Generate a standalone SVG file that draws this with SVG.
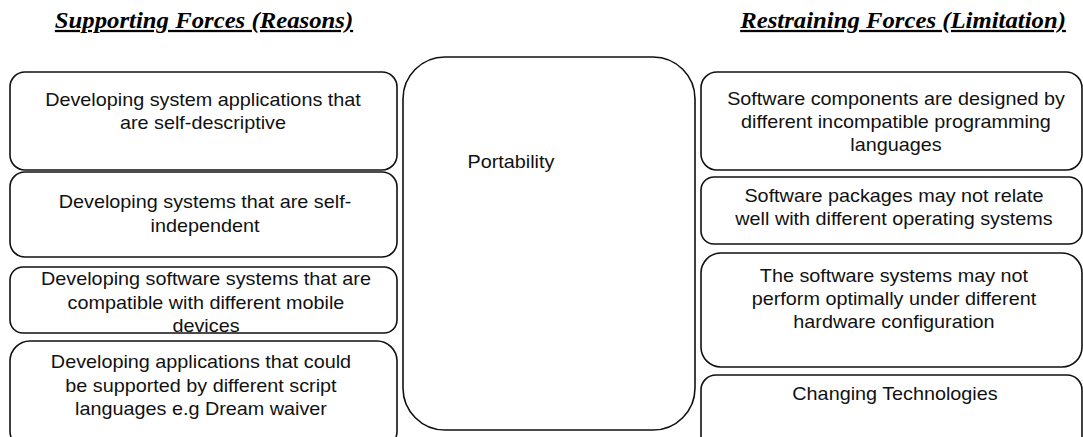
<svg xmlns="http://www.w3.org/2000/svg" width="1083" height="437" viewBox="0 0 1083 437">
  <style>
    .box { fill: #ffffff; stroke: #111111; stroke-width: 1.6; }
    .hdr { font-family: "Liberation Serif", "Times New Roman", serif; font-size: 22.5px; font-weight: bold; font-style: italic; text-decoration: underline; fill: #000000; text-anchor: middle; }
    .lbl { font-family: "Liberation Sans", Arial, sans-serif; font-size: 18px; fill: #111111; text-anchor: middle; }
    .wide { transform: scaleX(1.1); transform-box: fill-box; transform-origin: center; }
  </style>
  <rect width="1083" height="437" fill="#ffffff"/>

  <!-- column headings -->
  <text class="hdr wide" x="204" y="28">Supporting Forces (Reasons)</text>
  <text class="hdr wide" x="903" y="28">Restraining Forces (Limitation)</text>

  <!-- supporting forces -->
  <g id="support-1">
    <rect class="box" x="10" y="72" width="387" height="98" rx="15"/>
    <text class="lbl wide" x="203" y="106">Developing system applications that</text>
    <text class="lbl wide" x="203" y="129">are self-descriptive</text>
  </g>
  <g id="support-2">
    <rect class="box" x="10" y="172" width="387" height="85" rx="15"/>
    <text class="lbl wide" x="205" y="208">Developing systems that are self-</text>
    <text class="lbl wide" x="205" y="232">independent</text>
  </g>
  <g id="support-3">
    <rect class="box" x="10" y="267" width="387" height="66" rx="13"/>
    <text class="lbl wide" x="206" y="285">Developing software systems that are</text>
    <text class="lbl wide" x="206" y="309">compatible with different mobile</text>
    <text class="lbl wide" x="206" y="332">devices</text>
  </g>
  <g id="support-4">
    <rect class="box" x="10" y="341" width="387" height="110" rx="20"/>
    <text class="lbl wide" x="201" y="368">Developing applications that could</text>
    <text class="lbl wide" x="201" y="392">be supported by different script</text>
    <text class="lbl wide" x="201" y="415">languages e.g Dream waiver</text>
  </g>

  <!-- central factor -->
  <g id="portability">
    <rect class="box" x="403" y="57" width="292" height="373" rx="42"/>
    <text class="lbl wide" x="511" y="168">Portability</text>
  </g>

  <!-- restraining forces -->
  <g id="restrain-1">
    <rect class="box" x="701" y="72" width="381" height="98" rx="16"/>
    <text class="lbl wide" x="896" y="105">Software components are designed by</text>
    <text class="lbl wide" x="896" y="128">different incompatible programming</text>
    <text class="lbl wide" x="896" y="151">languages</text>
  </g>
  <g id="restrain-2">
    <rect class="box" x="701" y="177" width="381" height="67" rx="13"/>
    <text class="lbl wide" x="894" y="202">Software packages may not relate</text>
    <text class="lbl wide" x="894" y="225">well with different operating systems</text>
  </g>
  <g id="restrain-3">
    <rect class="box" x="701" y="253" width="381" height="114" rx="20"/>
    <text class="lbl wide" x="894" y="282">The software systems may not</text>
    <text class="lbl wide" x="894" y="305">perform optimally under different</text>
    <text class="lbl wide" x="894" y="328">hardware configuration</text>
  </g>
  <g id="restrain-4">
    <rect class="box" x="701" y="375" width="381" height="90" rx="15"/>
    <text class="lbl wide" x="895" y="400">Changing Technologies</text>
  </g>

  <g id="connectors"/>
</svg>
